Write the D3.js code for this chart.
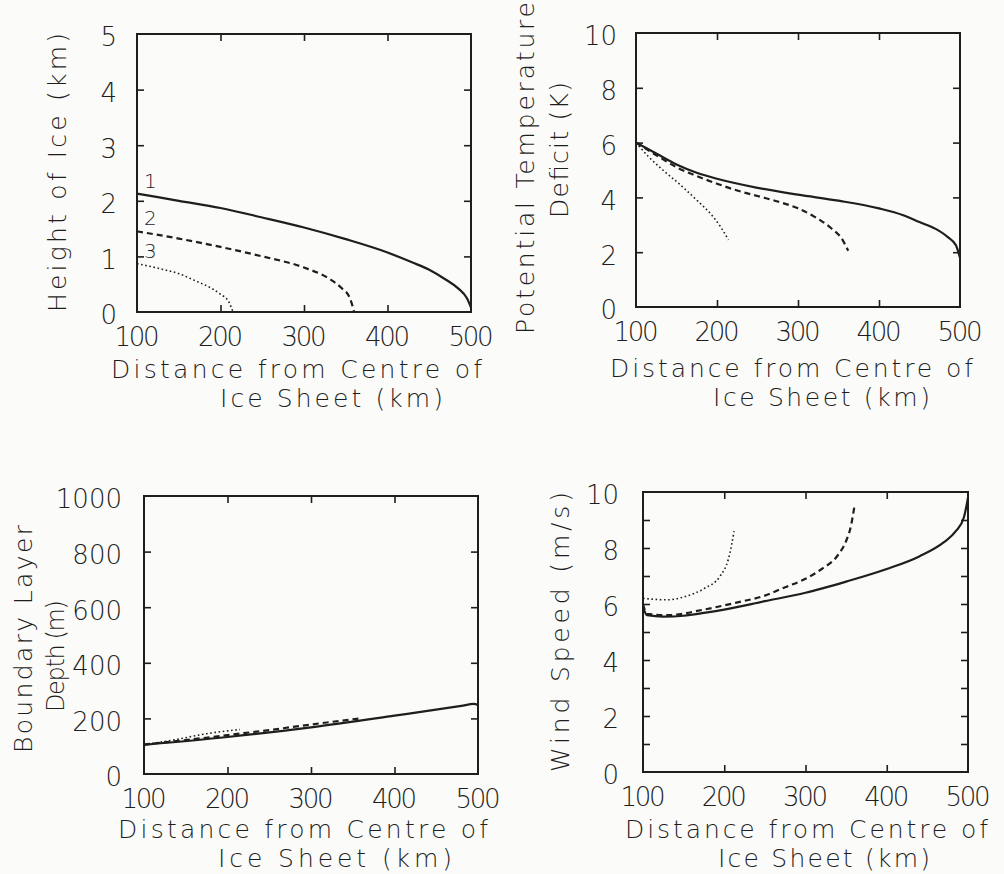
<!DOCTYPE html>
<html>
<head>
<meta charset="utf-8">
<script src="https://cdn.jsdelivr.net/npm/d3@7"></script>
<style>
  body { margin: 0; background: #fbfbf9; }
  svg text { font-family: "DejaVu Sans", sans-serif; font-weight: 200; fill: #1e1e1e; }
</style>
</head>
<body>
<svg id="chart" width="1004" height="874"></svg>
<script>
// distances (km) and values, one pair of arrays per curve

// ice height (km)
const iceX1 = [100, 150, 200, 250, 300, 350, 400, 430, 450, 470, 485, 495, 500];
const iceY1 = [2.13, 2.0, 1.87, 1.70, 1.52, 1.31, 1.07, 0.89, 0.76, 0.58, 0.42, 0.25, 0.08];
const iceX2 = [100, 150, 200, 250, 300, 330, 345, 355, 360];
const iceY2 = [1.45, 1.32, 1.17, 1.0, 0.80, 0.60, 0.43, 0.25, 0.0];
const iceX3 = [100, 130, 150, 170, 190, 200, 210, 215];
const iceY3 = [0.87, 0.77, 0.69, 0.56, 0.42, 0.32, 0.18, 0.0];

// potential temperature deficit (K)
const ptdX1 = [100, 125, 150, 175, 200, 250, 300, 350, 400, 430, 450, 470, 485, 495, 500];
const ptdY1 = [6.0, 5.6, 5.2, 4.9, 4.68, 4.35, 4.1, 3.88, 3.6, 3.35, 3.1, 2.85, 2.55, 2.25, 1.8];
const ptdX2 = [100, 130, 150, 175, 200, 225, 250, 275, 300, 320, 340, 355, 362];
const ptdY2 = [6.0, 5.45, 5.1, 4.78, 4.5, 4.25, 4.05, 3.85, 3.6, 3.3, 2.9, 2.45, 2.05];
const ptdX3 = [100, 115, 133, 155, 175, 195, 205, 214];
const ptdY3 = [6.0, 5.5, 5.0, 4.45, 3.9, 3.3, 2.9, 2.45];

// boundary layer depth (m)
const bldX1 = [100, 200, 300, 400, 480, 495, 500];
const bldY1 = [105, 133, 168, 210, 245, 252, 248];
const bldX2 = [100, 150, 200, 250, 300, 340, 360];
const bldY2 = [106, 122, 140, 158, 178, 193, 200];
const bldX3 = [100, 135, 175, 200, 215];
const bldY3 = [106, 122, 145, 155, 160];

// wind speed (m/s)
const wsX1 = [100, 105, 125, 150, 175, 200, 250, 300, 350, 400, 440, 470, 485, 495, 500];
const wsY1 = [5.9, 5.6, 5.55, 5.58, 5.68, 5.8, 6.1, 6.4, 6.8, 7.25, 7.7, 8.2, 8.6, 9.1, 9.8];
const wsX2 = [100, 105, 130, 175, 215, 250, 275, 300, 320, 340, 350, 356, 360];
const wsY2 = [6.0, 5.65, 5.6, 5.8, 6.05, 6.3, 6.6, 6.9, 7.25, 7.75, 8.25, 8.8, 9.45];
const wsX3 = [100, 130, 150, 175, 195, 205, 209, 212];
const wsY3 = [6.2, 6.15, 6.25, 6.55, 7.0, 7.6, 8.1, 8.6];

const xTickValues = [100, 200, 300, 400, 500];
const iceTicks = [0, 1, 2, 3, 4, 5];
const ptdTicks = [0, 2, 4, 6, 8, 10];
const bldTicks = [0, 200, 400, 600, 800, 1000];
const wsTicks = [0, 2, 4, 6, 8, 10];
const wsMinorTicks = [1, 2, 3, 4, 5, 6, 7, 8, 9];
const curveLabels = ["1", "2", "3"];

const svg = d3.select("#chart");
const ink = "#1e1e1e";

// line styles for curves 1 (solid), 2 (dashed), 3 (dotted)
const lineStyles = [
  { width: 2.2, dash: null },
  { width: 2.2, dash: "6,4" },
  { width: 1.6, dash: "1.6,2.6" }
];

function zipSeries(xs, ys) {
  return xs.map((x, i) => ({ x: x, y: ys[i] }));
}

function drawPanel(p) {
  const g = svg.append("g");
  const x = d3.scaleLinear().domain([100, 500]).range([p.l, p.r]);
  const y = d3.scaleLinear().domain(p.yDomain).range([p.b, p.t]);
  const tl = 7;

  // inner ticks on all four sides
  const xt = xTickValues.slice(1, -1);
  g.append("g").attr("transform", `translate(0,${p.b})`)
    .call(d3.axisTop(x).tickValues(xt).tickSize(tl).tickFormat(""))
    .call(a => a.select(".domain").remove());
  g.append("g").attr("transform", `translate(0,${p.t})`)
    .call(d3.axisBottom(x).tickValues(xt).tickSize(tl).tickFormat(""))
    .call(a => a.select(".domain").remove());
  g.append("g").attr("transform", `translate(${p.l},0)`)
    .call(d3.axisRight(y).tickValues(p.leftTicks).tickSize(tl).tickFormat(""))
    .call(a => a.select(".domain").remove());
  g.append("g").attr("transform", `translate(${p.r},0)`)
    .call(d3.axisLeft(y).tickValues(p.rightTicks).tickSize(tl).tickFormat(""))
    .call(a => a.select(".domain").remove());
  g.selectAll(".tick line").attr("stroke", ink).attr("stroke-width", 1.6);

  // tick labels
  g.selectAll(".xlab").data(xTickValues).join("text")
    .attr("x", d => x(d)).attr("y", p.b + 34)
    .attr("text-anchor", "middle").attr("font-size", 26)
    .attr("textLength", 45).attr("lengthAdjust", "spacing")
    .text(d => d);
  g.selectAll(".ylab").data(p.yTicks).join("text")
    .attr("x", p.l - p.labGap).attr("y", d => y(d) + 3)
    .attr("dy", "0.36em")
    .attr("text-anchor", "end").attr("font-size", 26)
    .text(d => d);

  // curves
  const line = d3.line().x(d => x(d.x)).y(d => y(d.y)).curve(d3.curveMonotoneX);
  p.series.forEach((s, i) => {
    g.append("path")
      .attr("d", line(s))
      .attr("fill", "none")
      .attr("stroke", ink)
      .attr("stroke-width", lineStyles[i].width)
      .attr("stroke-dasharray", lineStyles[i].dash);
  });

  // frame
  g.append("rect")
    .attr("x", p.l).attr("y", p.t)
    .attr("width", p.r - p.l).attr("height", p.b - p.t)
    .attr("fill", "none").attr("stroke", ink).attr("stroke-width", 2);

  // axis titles
  p.xTitle.forEach(t => {
    g.append("text")
      .attr("x", t.x0).attr("y", t.y)
      .attr("font-size", 25)
      .attr("textLength", t.x1 - t.x0).attr("lengthAdjust", "spacing")
      .text(t.text);
  });
  p.yTitle.forEach(t => {
    g.append("text")
      .attr("transform", `translate(${t.x},${t.y0}) rotate(-90)`)
      .attr("font-size", t.size || 25)
      .attr("textLength", t.y0 - t.y1).attr("lengthAdjust", "spacing")
      .text(t.text);
  });
  return { g, x, y };
}

const xTitleTop = (a, b, c, d, ya, yb) => [
  { text: "Distance from Centre of", x0: a, x1: b, y: ya },
  { text: "Ice Sheet (km)", x0: c, x1: d, y: yb }
];

const p1 = drawPanel({
  l: 137, t: 34, r: 471, b: 312, yDomain: [0, 5], labGap: 20,
  yTicks: iceTicks, leftTicks: [1, 2, 3, 4], rightTicks: [1, 2, 3, 4],
  series: [zipSeries(iceX1, iceY1), zipSeries(iceX2, iceY2), zipSeries(iceX3, iceY3)],
  xTitle: xTitleTop(111, 482, 220, 443, 378, 407),
  yTitle: [{ text: "Height of Ice (km)", x: 66, y0: 312, y1: 33 }]
});

// curve numbers next to the start of each ice profile
p1.g.selectAll(".clab").data(curveLabels).join("text")
  .attr("x", 144)
  .attr("y", (d, i) => p1.y([iceY1[0], iceY2[0], iceY3[0]][i]) - 6)
  .attr("font-size", 20)
  .text(d => d);

drawPanel({
  l: 636, t: 33, r: 960, b: 307, yDomain: [0, 10], labGap: 19,
  yTicks: ptdTicks, leftTicks: [2, 4, 6, 8], rightTicks: [2, 4, 6, 8],
  series: [zipSeries(ptdX1, ptdY1), zipSeries(ptdX2, ptdY2), zipSeries(ptdX3, ptdY3)],
  xTitle: xTitleTop(610, 973, 713, 930, 377, 406),
  yTitle: [
    { text: "Potential Temperature", x: 534, y0: 334, y1: 2 },
    { text: "Deficit (K)", x: 568, y0: 218, y1: 82 }
  ]
});

drawPanel({
  l: 144, t: 496, r: 478, b: 774, yDomain: [0, 1000], labGap: 22,
  yTicks: bldTicks, leftTicks: [200, 400, 600, 800], rightTicks: [200, 400, 600, 800],
  series: [zipSeries(bldX1, bldY1), zipSeries(bldX2, bldY2), zipSeries(bldX3, bldY3)],
  xTitle: xTitleTop(118, 488, 218, 452, 838, 867),
  yTitle: [
    { text: "Boundary Layer", x: 32, y0: 753, y1: 525 },
    { text: "Depth (m)", x: 64, y0: 712, y1: 600, size: 24 }
  ]
});

drawPanel({
  l: 643, t: 492, r: 968, b: 772, yDomain: [0, 10], labGap: 24,
  yTicks: wsTicks, leftTicks: wsMinorTicks, rightTicks: wsMinorTicks,
  series: [zipSeries(wsX1, wsY1), zipSeries(wsX2, wsY2), zipSeries(wsX3, wsY3)],
  xTitle: xTitleTop(625, 988, 718, 930, 838, 867),
  yTitle: [{ text: "Wind Speed (m/s)", x: 569, y0: 772, y1: 492 }]
});
</script>
</body>
</html>
